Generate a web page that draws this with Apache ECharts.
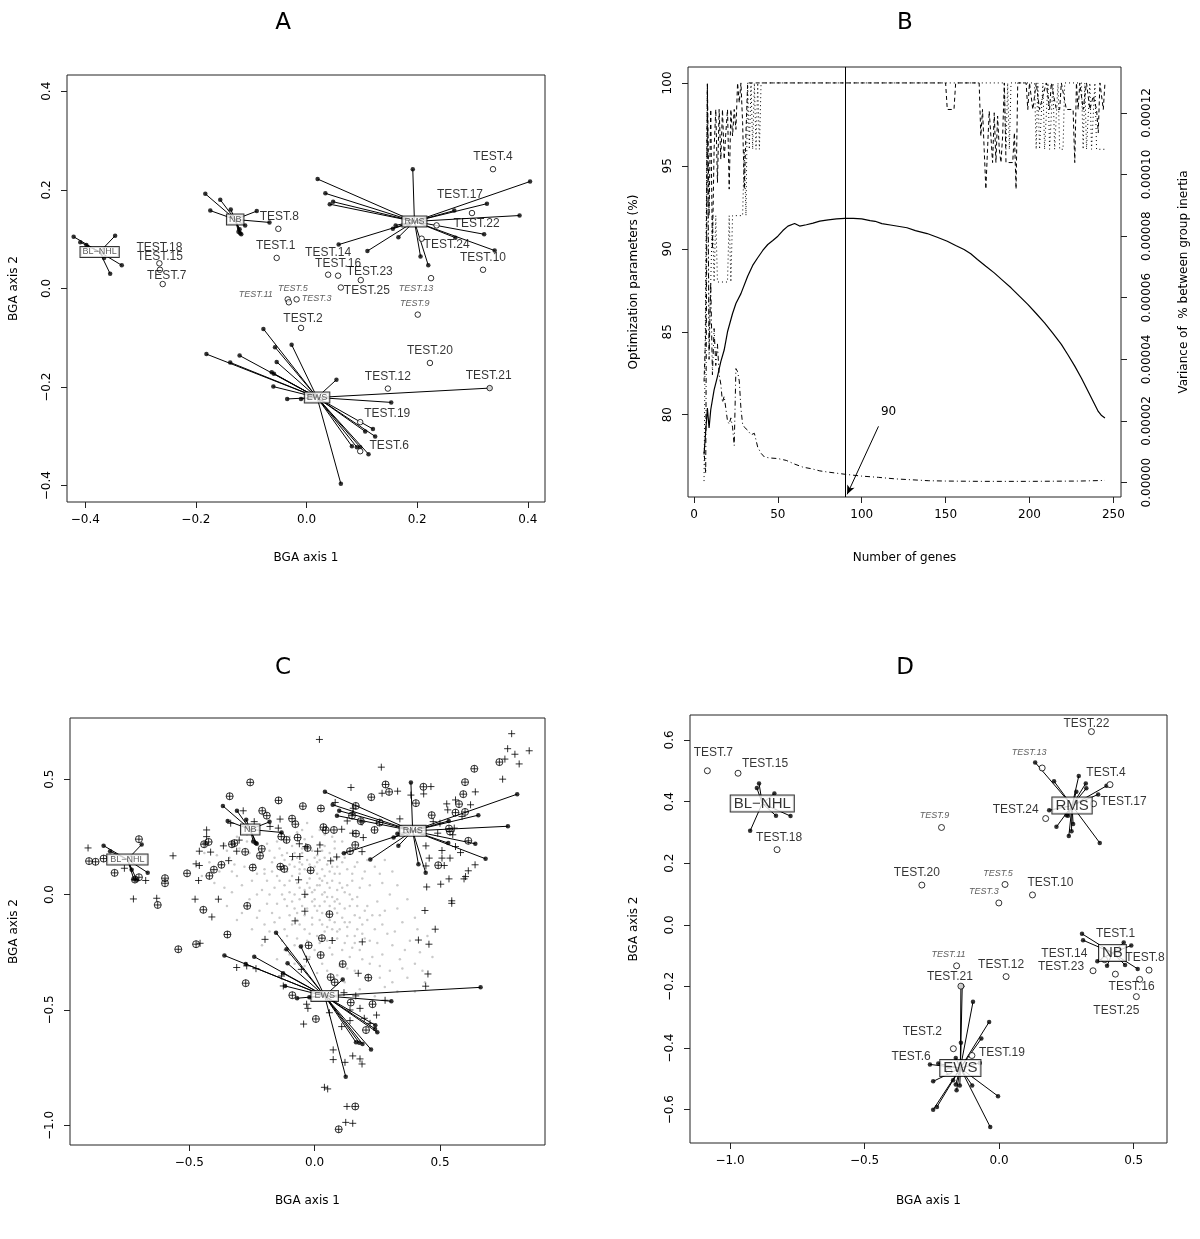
<!DOCTYPE html>
<html><head><meta charset="utf-8">
<script src="https://cdn.jsdelivr.net/npm/echarts@6/dist/echarts.min.js"></script>
<style>html,body{margin:0;padding:0;background:#fff}#c{width:1200px;height:1239px}</style>
</head><body><div id="c"></div>
<script>
// ---------- shared ----------
const groupNames = ["BL\u2212NHL", "NB", "RMS", "EWS"];
const italicTests = ["TEST.11", "TEST.5", "TEST.3", "TEST.13", "TEST.9"];

// ---------- Panel A ----------
const centersA = [[-0.374, 0.074], [-0.129, 0.140], [0.195, 0.136], [0.019, -0.221]];
const classA_BL = [[-0.421,0.105],[-0.409,0.094],[-0.398,0.088],[-0.346,0.107],[-0.334,0.047],[-0.355,0.030],[-0.366,0.062]];
const classA_NB = [[-0.183,0.192],[-0.156,0.180],[-0.137,0.160],[-0.174,0.158],[-0.090,0.157],[-0.067,0.134],[-0.121,0.120],[-0.123,0.115],[-0.118,0.110],[-0.120,0.112],[-0.111,0.128]];
const classA_RMS = [[0.192,0.242],[0.020,0.222],[0.034,0.193],[0.048,0.176],[0.042,0.171],[0.404,0.217],[0.326,0.172],[0.267,0.158],[0.385,0.148],[0.321,0.110],[0.269,0.103],[0.340,0.077],[0.220,0.047],[0.206,0.065],[0.110,0.076],[0.058,0.089],[0.166,0.104],[0.156,0.121],[0.161,0.128],[0.184,0.129]];
const classA_EWS = [[-0.078,-0.082],[-0.181,-0.133],[-0.138,-0.150],[-0.121,-0.136],[-0.057,-0.119],[-0.027,-0.114],[-0.054,-0.149],[-0.063,-0.170],[-0.059,-0.173],[-0.060,-0.199],[-0.035,-0.224],[-0.010,-0.224],[0.054,-0.185],[0.331,-0.202],[0.153,-0.231],[0.120,-0.285],[0.106,-0.290],[0.124,-0.300],[0.082,-0.320],[0.091,-0.322],[0.097,-0.322],[0.112,-0.336],[0.062,-0.396]];
const testA = [["TEST.4",0.337,0.242],["TEST.17",0.299,0.153],["TEST.22",0.235,0.128],["TEST.24",0.208,0.101],["TEST.10",0.319,0.038],["TEST.8",-0.051,0.121],["TEST.1",-0.054,0.062],["TEST.14",0.039,0.028],["TEST.16",0.057,0.026],["TEST.23",0.098,0.017],["TEST.25",0.062,0.002],["TEST.13",0.225,0.021],["TEST.9",0.201,-0.053],["TEST.11",-0.034,-0.022],["TEST.5",-0.032,-0.028],["TEST.3",-0.018,-0.022],["TEST.2",-0.010,-0.080],["TEST.18",-0.266,0.051],["TEST.15",-0.265,0.038],["TEST.7",-0.260,0.009],["TEST.20",0.223,-0.151],["TEST.12",0.147,-0.203],["TEST.21",0.331,-0.202],["TEST.19",0.097,-0.271],["TEST.6",0.097,-0.330]];
const labelOffA = {"TEST.4":[0,-12],"TEST.17":[-12,-18],"TEST.22":[40,-2],"TEST.24":[25,6],"TEST.10":[0,-12],"TEST.8":[1,-12],"TEST.1":[-1,-12],"TEST.14":[0,-22],"TEST.16":[0,-12],"TEST.23":[9,-8],"TEST.25":[26,3],"TEST.13":[-15,10],"TEST.9":[-3,-11],"TEST.11":[-32,-5],"TEST.5":[4,-14],"TEST.3":[20,-1],"TEST.2":[2,-9],"TEST.18":[0,-16],"TEST.15":[0,-13],"TEST.7":[4,-8],"TEST.20":[0,-12],"TEST.12":[0,-12],"TEST.21":[-1,-12],"TEST.19":[27,-8],"TEST.6":[29,-6]};
const ticksA_x = [-0.4, -0.2, 0, 0.2, 0.4];
const ticksA_y = [-0.4, -0.2, 0, 0.2, 0.4];

// ---------- Panel B ----------
const solidB = [[6,77.6],[7,79.0],[8,80.4],[9,79.2],[10,80.3],[12,81.5],[14,82.3],[16,83.2],[18,83.9],[20,85.0],[23,86.1],[25,86.7],[28,87.3],[32,88.35],[35,89.0],[38,89.46],[41,89.9],[44,90.26],[47,90.5],[50,90.76],[53,91.1],[56,91.37],[60,91.53],[63,91.37],[67,91.45],[71,91.55],[75,91.67],[80,91.75],[85,91.8],[90,91.83],[95,91.83],[100,91.81],[105,91.7],[108,91.66],[112,91.52],[118,91.42],[127,91.27],[132,91.1],[139,90.92],[145,90.7],[151,90.46],[156,90.2],[161,89.96],[165,89.7],[169,89.36],[174,88.95],[179,88.55],[184,88.1],[189,87.65],[194,87.15],[199,86.65],[204,86.1],[209,85.54],[214,84.9],[219,84.24],[223,83.6],[227,82.93],[231,82.2],[235,81.4],[238,80.8],[241,80.2],[243,79.95],[245,79.8]];
const dashedB = [[6,82],[7,85],[8,100],[9,92],[10,98.4],[11,90],[12,96],[13,98.4],[14,94],[15,98.4],[16,95.4],[17,98.4],[18,95.4],[19,97],[20,98.4],[21,93.6],[22,98.4],[23,96.8],[24,98.4],[25,97.2],[26,100],[27,98.8],[28,100],[29,97.6],[30,93.6],[31,97],[32,100],[150,100],[151,98.4],[155,98.4],[156,100],[170,100],[171,96.8],[172,98.4],[173,96],[174,93.6],[175,96],[176,98.3],[177,96.8],[178,95.2],[179,98.2],[180,95.2],[181,98],[182,96],[183,95.2],[184,96.8],[185,100],[186,95.2],[190,95.2],[191,97],[192,93.6],[193,100],[198,100],[199,98.4],[200,100],[202,98.4],[204,100],[206,98.4],[208,99.2],[210,100],[212,98.4],[213,100],[216,98.4],[218,98.4],[219,100],[222,98.4],[226,98.4],[227,95.2],[228,100],[229,98.4],[230,100],[232,98.4],[234,100],[236,98.4],[238,99.2],[240,98.4],[241,97],[242,100],[244,98.4],[245,100]];
const dottedB = [[6,76],[7,76],[8,100],[9,84],[10,88],[11,92],[12,88],[13,92],[14,88],[15,88],[20,88],[21,92],[22,88],[23,92],[29,92],[30,96],[31,92],[32,100],[33,96],[34,100],[35,96],[36,100],[37,96],[38,100],[39,96],[40,100],[185,100],[186,96],[187,100],[188,96],[189,100],[203,100],[204,96],[205,100],[206,96],[208,100],[209,96],[211,100],[212,96],[214,100],[215,96],[217,100],[218,96],[220,96],[221,100],[231,100],[232,96],[233,100],[234,96],[236,100],[237,96],[239,100],[240,96],[245,96]];
// variance of % between-group inertia, in units of 1e-5
const varianceE5 = [[6,1.0],[7,0.3],[8,12.8],[9,4.0],[10,6.5],[11,3.5],[12,5.0],[13,3.8],[14,4.5],[15,3.5],[16,3.2],[17,2.6],[18,2.8],[19,2.4],[20,2.0],[21,1.9],[22,2.1],[23,1.8],[24,1.2],[25,3.7],[26,3.6],[27,3.3],[28,2.4],[29,1.9],[30,1.8],[32,1.7],[34,1.55],[36,1.6],[38,1.15],[40,0.95],[42,0.83],[45,0.8],[50,0.78],[55,0.72],[60,0.6],[65,0.5],[70,0.45],[75,0.38],[80,0.34],[90,0.27],[100,0.21],[110,0.17],[120,0.12],[130,0.09],[140,0.06],[150,0.05],[170,0.04],[200,0.04],[230,0.05],[245,0.07]];
const chosenGenes = 90;
const arrowTail = [110, 79.3], arrowHead = [91.3, 75.2], arrowLabelAt = [116, 80.2];
const ticksB_x = [0, 50, 100, 150, 200, 250];
const ticksB_yl = [80, 85, 90, 95, 100];
const ticksB_yr = [0, 2, 4, 6, 8, 10, 12];

// ---------- Panel C ----------
const centersC = [[-0.747, 0.152], [-0.257, 0.282], [0.391, 0.276], [0.040, -0.439]];
const classC_BL = [[-0.842,0.212],[-0.816,0.188],[-0.690,0.217],[-0.666,0.095],[-0.721,0.066],[-0.710,0.064],[-0.730,0.107]];
const classC_NB = [[-0.366,0.384],[-0.310,0.363],[-0.273,0.324],[-0.347,0.319],[-0.180,0.315],[-0.132,0.269],[-0.235,0.223],[-0.231,0.220],[-0.245,0.230]];
const classC_RMS = [[0.384,0.486],[0.041,0.445],[0.072,0.389],[0.098,0.363],[0.089,0.342],[0.808,0.435],[0.771,0.296],[0.653,0.344],[0.535,0.319],[0.641,0.220],[0.682,0.155],[0.443,0.095],[0.414,0.131],[0.222,0.152],[0.117,0.179],[0.334,0.211],[0.315,0.247],[0.330,0.263],[0.533,0.223]];
const classC_EWS = [[-0.154,-0.165],[-0.360,-0.264],[-0.275,-0.301],[-0.241,-0.269],[-0.112,-0.237],[-0.055,-0.225],[-0.108,-0.298],[-0.126,-0.341],[-0.118,-0.396],[-0.070,-0.449],[-0.021,-0.445],[0.112,-0.368],[0.662,-0.402],[0.306,-0.462],[0.242,-0.566],[0.241,-0.582],[0.250,-0.597],[0.165,-0.640],[0.178,-0.642],[0.191,-0.647],[0.225,-0.671],[0.124,-0.789]];
const crossesC = [[0.786,0.697],[0.770,0.632],[0.799,0.608],[0.856,0.623],[0.816,0.566],[0.750,0.500],[0.759,0.587],[0.019,0.672],[0.266,0.552],[0.145,0.464],[0.269,0.439],[0.464,0.468],[0.435,0.436],[0.384,0.431],[0.641,0.445],[0.527,0.393],[0.622,0.389],[0.562,0.410],[0.531,0.367],[0.588,0.338],[0.551,0.259],[0.557,0.288],[0.444,0.211],[0.508,0.191],[0.562,0.208],[0.582,0.182],[0.508,0.158],[0.540,0.158],[0.457,0.158],[0.444,0.124],[0.517,0.126],[0.640,0.129],[0.613,0.103],[0.602,0.078],[0.596,0.068],[0.536,0.068],[0.503,0.045],[0.447,0.033],[0.547,-0.027],[0.547,-0.038],[0.440,-0.069],[0.481,-0.150],[0.414,-0.197],[0.456,-0.215],[0.452,-0.344],[0.443,-0.397],[0.340,0.328],[0.491,0.266],[0.500,0.309],[0.473,0.316],[0.331,0.448],[0.082,0.399],[0.130,0.319],[0.152,0.353],[0.189,0.314],[0.108,0.283],[0.152,0.266],[0.194,0.247],[0.189,0.186],[0.088,0.163],[0.064,0.146],[0.154,0.374],[0.021,0.215],[-0.035,0.208],[-0.061,0.220],[-0.088,0.165],[-0.059,0.165],[0.012,0.188],[-0.064,0.064],[-0.039,0.001],[-0.039,-0.072],[-0.078,-0.114],[0.070,-0.199],[0.190,-0.205],[-0.198,-0.194],[0.174,-0.341],[-0.053,-0.324],[-0.032,-0.280],[-0.285,0.363],[-0.241,0.316],[-0.178,0.295],[-0.145,0.288],[-0.138,0.327],[-0.335,0.309],[-0.364,0.211],[-0.301,0.236],[-0.311,0.188],[-0.343,0.147],[-0.431,0.280],[-0.431,0.251],[-0.435,0.223],[-0.460,0.188],[-0.415,0.184],[-0.473,0.133],[-0.460,0.126],[-0.463,0.061],[-0.565,0.168],[-0.630,-0.016],[-0.477,-0.020],[-0.384,-0.020],[-0.410,-0.097],[-0.457,-0.211],[-0.723,-0.019],[-0.674,0.061],[-0.759,0.114],[-0.904,0.202],[-0.311,-0.316],[-0.234,-0.321],[-0.271,-0.309],[-0.132,-0.353],[-0.125,-0.396],[-0.032,-0.475],[-0.027,-0.493],[-0.044,-0.561],[0.059,-0.512],[0.117,-0.425],[0.164,-0.439],[0.181,-0.493],[0.198,-0.536],[0.141,-0.546],[0.247,-0.522],[0.281,-0.458],[0.108,-0.572],[0.074,-0.673],[0.074,-0.715],[0.152,-0.699],[0.181,-0.712],[0.189,-0.734],[0.121,-0.727],[0.039,-0.835],[0.052,-0.842],[0.129,-0.918],[0.124,-0.987],[0.152,-0.991],[0.221,-0.558],[0.141,-0.500]];
const circledC = [[0.637,0.545],[0.600,0.487],[0.737,0.574],[0.593,0.435],[0.434,0.467],[0.404,0.396],[0.283,0.477],[0.297,0.445],[0.226,0.422],[0.467,0.344],[0.576,0.392],[0.562,0.355],[0.600,0.358],[0.536,0.286],[0.540,0.273],[0.613,0.233],[0.493,0.127],[0.164,0.384],[0.149,0.342],[0.184,0.318],[0.239,0.280],[0.259,0.312],[0.165,0.264],[0.162,0.215],[0.141,0.188],[0.077,0.280],[0.044,0.279],[0.035,0.292],[0.025,0.373],[-0.047,0.383],[-0.144,0.408],[-0.257,0.486],[-0.339,0.426],[-0.209,0.363],[-0.191,0.342],[-0.090,0.329],[-0.077,0.305],[-0.133,0.251],[-0.112,0.237],[-0.068,0.247],[-0.028,0.202],[-0.211,0.198],[-0.218,0.168],[-0.277,0.185],[-0.247,0.117],[-0.330,0.218],[-0.320,0.223],[-0.402,0.108],[-0.372,0.129],[-0.420,0.081],[-0.441,0.218],[-0.423,0.228],[-0.509,0.092],[-0.597,0.071],[-0.597,0.049],[-0.626,-0.045],[-0.701,0.240],[-0.717,0.065],[-0.701,0.075],[-0.798,0.094],[-0.842,0.156],[-0.874,0.142],[-0.900,0.145],[-0.137,0.121],[-0.121,0.111],[-0.016,0.105],[-0.269,-0.049],[0.059,-0.085],[-0.444,-0.066],[-0.348,-0.173],[-0.473,-0.215],[-0.544,-0.237],[-0.275,-0.384],[-0.024,-0.220],[0.029,-0.189],[0.024,-0.262],[0.112,-0.301],[0.064,-0.358],[0.080,-0.380],[0.214,-0.360],[-0.089,-0.436],[0.144,-0.468],[0.231,-0.475],[0.205,-0.587],[0.005,-0.539],[0.162,-0.918],[0.096,-1.017]];
const grayGenesC = [[-0.12,0.15],[-0.08,0.12],[-0.05,0.18],[-0.02,0.10],[0.01,0.14],[0.04,0.08],[0.07,0.12],[0.10,0.05],[-0.10,0.06],[-0.06,0.03],[-0.03,0.05],[0.00,0.02],[0.03,0.00],[0.06,0.03],[0.09,-0.02],[0.12,0.01],[-0.13,0.00],[-0.09,-0.03],[-0.04,-0.01],[0.02,-0.05],[0.05,-0.08],[0.08,-0.06],[0.11,-0.10],[-0.07,-0.08],[-0.01,-0.10],[0.03,-0.13],[0.07,-0.15],[0.13,-0.14],[-0.11,0.10],[-0.15,0.08],[-0.17,0.14],[-0.14,0.20],[-0.09,0.21],[-0.04,0.24],[0.02,0.22],[0.06,0.18],[0.09,0.16],[0.13,0.11],[0.15,0.06],[0.17,-0.01],[0.14,-0.05],[0.16,-0.09],[-0.16,0.03],[-0.19,0.06],[-0.20,0.11],[-0.22,0.16],[-0.18,0.19],[-0.12,0.23],[-0.07,0.27],[-0.01,0.19],[0.04,0.16],[-0.06,0.09],[-0.02,0.07],[0.01,0.09],[0.05,0.05],[0.08,0.09],[-0.08,0.00],[-0.05,-0.05],[0.00,-0.02],[0.04,-0.03],[0.10,-0.04],[-0.11,-0.05],[-0.14,-0.10],[-0.09,-0.13],[-0.04,-0.15],[0.01,-0.18],[0.05,-0.20],[0.09,-0.19],[0.12,-0.21],[0.16,-0.18],[0.19,-0.13],[0.20,-0.07],[0.18,0.03],[0.11,0.14],[0.00,0.12],[-0.03,0.15],[0.03,0.11],[-0.07,0.16],[-0.30,0.20],[-0.34,0.16],[-0.28,0.12],[-0.25,0.06],[-0.31,0.08],[-0.38,0.10],[-0.42,0.14],[-0.36,0.22],[-0.27,0.26],[-0.24,0.22],[-0.21,0.02],[-0.26,-0.02],[-0.33,0.01],[-0.40,0.05],[-0.45,0.08],[-0.19,-0.04],[-0.23,-0.10],[-0.29,-0.08],[-0.35,-0.05],[-0.18,-0.16],[-0.13,-0.20],[-0.21,-0.22],[-0.10,-0.26],[-0.05,-0.22],[-0.15,-0.28],[-0.02,-0.27],[0.03,-0.30],[0.07,-0.26],[0.10,-0.31],[0.14,-0.27],[0.18,-0.24],[0.22,-0.20],[0.24,-0.15],[0.23,-0.09],[0.25,-0.03],[0.22,0.04],[0.20,0.10],[0.17,0.14],[0.14,0.19],[0.11,0.23],[0.07,0.25],[0.02,0.28],[-0.03,0.31],[0.27,-0.26],[0.31,-0.22],[0.29,-0.17],[0.34,-0.28],[0.30,-0.33],[0.37,-0.36],[0.26,-0.31],[0.21,-0.35],[0.16,-0.33],[0.12,-0.38],[0.08,-0.42],[0.18,-0.41],[0.24,-0.44],[0.28,-0.40],[0.33,-0.42],[0.40,-0.30],[0.38,-0.20],[0.42,-0.25],[0.44,-0.38],[0.28,-0.07],[0.30,0.00],[0.27,0.05],[0.35,-0.12],[0.40,-0.10],[0.45,-0.18],[0.24,0.12],[0.31,0.10],[-0.02,0.03],[0.02,0.04],[-0.04,0.11],[0.06,0.10],[-0.09,0.08],[0.07,-0.01],[-0.06,-0.02],[0.01,-0.07],[-0.03,-0.06],[0.09,0.02],[0.12,-0.06],[-0.12,0.04],[-0.10,0.13],[0.00,0.16],[0.05,0.13],[-0.05,0.20],[0.03,0.19],[-0.08,0.18],[0.08,0.20],[-0.14,0.12],[0.13,0.04],[0.10,0.09],[0.06,-0.11],[-0.01,-0.13],[0.04,-0.16],[0.08,-0.12],[-0.07,-0.11],[0.15,-0.02],[-0.16,0.16],[-0.20,0.09],[-0.01,0.01],[0.02,0.07],[-0.05,0.13],[0.10,-0.15],[0.14,-0.12],[0.17,-0.05],[-0.13,0.17],[0.15,0.09],[-0.18,0.00],[-0.24,0.13],[-0.26,0.18],[-0.32,0.13],[0.19,-0.17],[0.21,-0.11],[0.23,-0.27],[0.15,-0.23],[0.06,-0.23],[0.00,-0.24],[-0.07,-0.19],[-0.12,-0.15],[-0.11,0.18],[-0.06,0.14],[-0.03,0.20],[0.01,0.17],[0.04,0.21],[0.07,0.15],[0.11,0.18],[-0.14,0.06],[-0.10,0.01],[-0.07,0.05],[-0.03,0.00],[0.01,0.04],[0.04,0.01],[0.07,0.06],[0.11,0.03],[0.14,0.00],[-0.12,-0.02],[-0.08,-0.06],[-0.04,-0.09],[0.00,-0.05],[0.03,-0.08],[0.06,-0.05],[0.09,-0.08],[0.12,-0.12],[-0.10,-0.09],[-0.06,-0.13],[-0.02,-0.17],[0.02,-0.11],[0.05,-0.14],[0.09,-0.16],[0.13,-0.18],[0.17,-0.15],[0.18,-0.10],[0.21,-0.05],[0.19,0.07],[0.16,0.12],[0.12,0.16],[0.08,0.23],[0.04,0.26],[-0.01,0.25],[-0.05,0.28],[-0.10,0.25],[-0.15,0.23],[-0.19,0.22],[-0.21,0.19],[-0.23,0.09],[-0.17,0.10],[-0.15,-0.04],[-0.17,-0.08],[-0.20,-0.13],[-0.16,-0.12],[-0.11,-0.18],[-0.08,-0.22],[-0.03,-0.20],[0.02,-0.21],[0.07,-0.19],[0.11,-0.24],[0.16,-0.21],[0.20,-0.19],[0.25,-0.21],[0.27,-0.13],[0.26,-0.09],[0.32,-0.16],[0.33,-0.06],[0.36,-0.24],[0.35,-0.32],[0.31,-0.38],[0.26,-0.36],[0.22,-0.30],[0.19,-0.28],[0.13,-0.32],[0.09,-0.35],[0.05,-0.33],[0.01,-0.34],[-0.04,-0.31],[-0.08,-0.30],[-0.12,-0.24],[0.40,-0.42],[0.43,-0.33],[0.47,-0.27],[0.41,-0.15],[-0.27,0.23],[-0.31,0.25],[-0.35,0.19],[-0.39,0.17],[-0.37,0.13],[-0.33,0.10],[-0.29,0.04],[-0.36,0.03],[-0.41,0.10],[-0.44,0.18],[-0.23,0.00],[-0.27,-0.05],[-0.31,-0.11],[-0.25,-0.15],[-0.22,-0.07],[0.21,0.15],[0.26,0.09],[0.28,0.15],[0.33,0.04],[0.37,-0.02],[-0.02,0.13],[0.02,0.15],[-0.06,0.11],[0.09,0.12],[-0.09,0.15],[0.05,-0.01],[-0.01,-0.03],[0.03,0.06],[-0.04,0.02],[0.08,-0.03]];
const ticksC_x = [-0.5, 0, 0.5];
const ticksC_y = [-1.0, -0.5, 0, 0.5];

// ---------- Panel D ----------
const centersD = [[-0.880, 0.394], [0.421, -0.091], [0.271, 0.387], [-0.144, -0.465]];
const classD_BL = [[-0.892,0.459],[-0.900,0.444],[-0.835,0.426],[-0.829,0.354],[-0.775,0.353],[-0.925,0.305]];
const classD_NB = [[0.308,-0.029],[0.312,-0.050],[0.463,-0.057],[0.491,-0.067],[0.365,-0.118],[0.401,-0.133],[0.468,-0.130],[0.515,-0.143]];
const classD_RMS = [[0.134,0.527],[0.204,0.466],[0.296,0.483],[0.322,0.459],[0.324,0.443],[0.399,0.451],[0.368,0.423],[0.287,0.432],[0.186,0.372],[0.250,0.356],[0.213,0.318],[0.275,0.327],[0.269,0.304],[0.259,0.288],[0.374,0.266],[0.256,0.354]];
const classD_EWS = [[-0.142,-0.199],[-0.137,-0.199],[-0.097,-0.250],[-0.037,-0.315],[-0.066,-0.369],[-0.142,-0.383],[-0.072,-0.448],[-0.257,-0.453],[-0.226,-0.450],[-0.245,-0.508],[-0.171,-0.504],[-0.161,-0.518],[-0.158,-0.537],[-0.146,-0.521],[-0.100,-0.521],[-0.004,-0.556],[-0.245,-0.600],[-0.231,-0.591],[-0.033,-0.656],[-0.161,-0.432]];
const testD = [["TEST.22",0.343,0.627],["TEST.7",-1.084,0.500],["TEST.15",-0.970,0.492],["TEST.18",-0.825,0.244],["TEST.13",0.160,0.509],["TEST.4",0.412,0.455],["TEST.17",0.351,0.393],["TEST.24",0.173,0.345],["TEST.9",-0.214,0.316],["TEST.20",-0.287,0.129],["TEST.5",0.022,0.131],["TEST.3",-0.001,0.071],["TEST.10",0.124,0.097],["TEST.1",0.392,-0.113],["TEST.14",0.432,-0.160],["TEST.8",0.557,-0.147],["TEST.23",0.349,-0.149],["TEST.16",0.522,-0.177],["TEST.25",0.510,-0.233],["TEST.11",-0.158,-0.133],["TEST.12",0.026,-0.168],["TEST.21",-0.142,-0.199],["TEST.2",-0.170,-0.402],["TEST.19",-0.101,-0.424],["TEST.6",-0.186,-0.475]];
const labelOffD = {"TEST.22":[-5,-8],"TEST.7":[6,-18],"TEST.15":[27,-10],"TEST.18":[2,-12],"TEST.13":[-13,-15],"TEST.4":[-4,-12],"TEST.17":[30,-2],"TEST.24":[-30,-9],"TEST.9":[-7,-12],"TEST.20":[-5,-12],"TEST.5":[-7,-11],"TEST.3":[-15,-11],"TEST.10":[18,-12],"TEST.1":[11,-26],"TEST.14":[-51,-20],"TEST.8":[-4,-12],"TEST.23":[-32,-4],"TEST.16":[-8,7],"TEST.25":[-20,14],"TEST.11":[-8,-11],"TEST.12":[-5,-12],"TEST.21":[-11,-9],"TEST.2":[-31,-17],"TEST.19":[30,-3],"TEST.6":[-38,-15]};
const ticksD_x = [-1.0, -0.5, 0, 0.5];
const ticksD_y = [-0.6, -0.4, -0.2, 0, 0.2, 0.4, 0.6];

// ---------- helpers ----------
const AX_FONT = 'DejaVu Sans';
const PT_FONT = 'Liberation Sans';
const INK = '#222';
const fmt1 = v => (v < 0 ? '\u2212' : '') + Math.abs(v).toFixed(1);
const fmt0 = v => String(v);
const fmtE5 = v => (v / 1e5).toFixed(5);
const PLUS = 'path://M0,5L10,5M5,0L5,10';
const OPLUS = 'path://M0,5A5,5,0,1,1,10,5A5,5,0,1,1,0,5ZM0,5L10,5M5,0L5,10';

function xAx(gi, min, max, ticks, fmt, name, gap) {
  return {type: 'value', gridIndex: gi, min, max, name, nameLocation: 'middle', nameGap: gap,
    nameTextStyle: {fontFamily: AX_FONT, fontSize: 12, color: '#000'},
    axisLine: {show: false, onZero: false}, splitLine: {show: false},
    axisTick: {show: true, customValues: ticks, length: 6, lineStyle: {color: INK}},
    axisLabel: {customValues: ticks, formatter: fmt, fontFamily: AX_FONT, fontSize: 12, color: '#000', margin: 12}};
}
function yAx(gi, min, max, ticks, fmt, name, gap, pos, margin) {
  return {type: 'value', gridIndex: gi, min, max, name, position: pos || 'left', nameLocation: 'middle', nameGap: gap,
    nameRotate: 90,
    nameTextStyle: {fontFamily: AX_FONT, fontSize: 12, color: '#000'},
    axisLine: {show: false, onZero: false}, splitLine: {show: false},
    axisTick: {show: true, customValues: ticks, length: 6, lineStyle: {color: INK}},
    axisLabel: {customValues: ticks, formatter: fmt, rotate: 90, fontFamily: AX_FONT, fontSize: 12, color: '#000', margin: margin || 12}};
}
function segSeries(ai, centers, classes) {
  const data = [];
  classes.forEach((pts, g) => pts.forEach(p => data.push({coords: [centers[g], p]})));
  return {type: 'lines', coordinateSystem: 'cartesian2d', xAxisIndex: ai, yAxisIndex: ai, silent: true, z: 2,
    lineStyle: {color: '#000', width: 1, opacity: 1, curveness: 0}, data};
}
function dotSeries(xi, yi, classes, size) {
  return {type: 'scatter', xAxisIndex: xi, yAxisIndex: yi, silent: true, z: 3, symbol: 'circle', symbolSize: size,
    itemStyle: {color: '#000'}, data: [].concat(...classes)};
}
function testSeries(xi, yi, tests, offs, size) {
  return {type: 'scatter', xAxisIndex: xi, yAxisIndex: yi, silent: true, z: 4, symbol: 'circle', symbolSize: size,
    itemStyle: {color: '#fff', borderColor: '#000', borderWidth: 1},
    data: tests.map(t => {
      const it = italicTests.includes(t[0]);
      return {name: t[0], value: [t[1], t[2]], label: {show: true, position: 'inside', offset: offs[t[0]] || [0, -12],
        formatter: '{b}', fontFamily: PT_FONT, fontSize: it ? 9 : 12, fontStyle: it ? 'italic' : 'normal', color: it ? '#333' : '#000'}};
    })};
}
function boxSeries(xi, yi, centers, fs, pad, col) {
  return {type: 'scatter', xAxisIndex: xi, yAxisIndex: yi, silent: true, z: 6, symbol: 'rect', symbolSize: 1,
    itemStyle: {color: 'transparent'},
    data: centers.map((c, g) => ({name: groupNames[g], value: c})),
    label: {show: true, position: 'inside', formatter: '{b}', fontFamily: PT_FONT, fontSize: fs, color: col,
      backgroundColor: '#fff', borderColor: '#000', borderWidth: 1, padding: pad}};
}

const gridBase = {show: true, borderColor: INK, borderWidth: 1, backgroundColor: 'transparent', containLabel: false};
const panelLetter = (t, x, y) => ({type: 'text', x, y, style: {text: t, fontSize: 23, fontFamily: AX_FONT, fill: '#000', align: 'center', verticalAlign: 'middle'}});

const option = {
  animation: false,
  backgroundColor: '#fff',
  graphic: [panelLetter('A', 283, 23), panelLetter('B', 905, 23), panelLetter('C', 283, 668), panelLetter('D', 905, 668)],
  grid: [
    Object.assign({left: 67, top: 75, width: 478, height: 427}, gridBase),
    Object.assign({left: 688, top: 67, width: 433, height: 430}, gridBase),
    Object.assign({left: 70, top: 718, width: 475, height: 427}, gridBase),
    Object.assign({left: 690, top: 715, width: 477, height: 428}, gridBase)
  ],
  xAxis: [
    xAx(0, -0.433, 0.431, ticksA_x, fmt1, 'BGA axis 1', 50),
    xAx(1, -3.56, 254.56, ticksB_x, fmt0, 'Number of genes', 55),
    xAx(2, -0.976, 0.919, ticksC_x, fmt1, 'BGA axis 1', 50),
    xAx(3, -1.1485, 0.6238, ticksD_x, fmt1, 'BGA axis 1', 52)
  ],
  yAxis: [
    yAx(0, -0.433, 0.433, ticksA_y, fmt1, 'BGA axis 2', 47, 'left', 14),
    yAx(1, 75.04, 100.96, ticksB_yl, fmt0, 'Optimization parameters (%)', 48, 'left', 14),
    yAx(2, -1.085, 0.765, ticksC_y, fmt1, 'BGA axis 2', 50, 'left', 14),
    yAx(3, -0.708, 0.681, ticksD_y, fmt1, 'BGA axis 2', 50, 'left', 14),
    yAx(1, -0.468, 13.49, ticksB_yr, fmtE5, 'Variance of  % between group inertia', 57, 'right', 20)
  ],
  series: [
    // Panel A
    segSeries(0, centersA, [classA_BL, classA_NB, classA_RMS, classA_EWS]),
    dotSeries(0, 0, [classA_BL, classA_NB, classA_RMS, classA_EWS], 4.5),
    testSeries(0, 0, testA, labelOffA, 5.5),
    boxSeries(0, 0, centersA, 9, [1, 2, 0, 2], '#333'),
    // Panel B
    {type: 'line', xAxisIndex: 1, yAxisIndex: 1, silent: true, showSymbol: false, symbol: 'none', z: 3,
      lineStyle: {color: '#000', width: 1.2, type: 'solid'}, data: solidB,
      markLine: {silent: true, symbol: 'none', label: {show: false}, lineStyle: {color: '#000', width: 1, type: 'solid'},
        data: [
          {xAxis: chosenGenes},
          [{coord: arrowTail, symbol: 'none'}, {coord: arrowHead, symbol: 'arrow', symbolSize: [6, 9]}]
        ]},
      markPoint: {silent: true, symbol: 'circle', symbolSize: 1, itemStyle: {color: 'transparent'},
        data: [{coord: arrowLabelAt, label: {show: true, formatter: String(chosenGenes), position: 'inside', fontFamily: AX_FONT, fontSize: 12, color: '#000'}}]}},
    {type: 'line', xAxisIndex: 1, yAxisIndex: 1, silent: true, showSymbol: false, symbol: 'none', z: 2,
      lineStyle: {color: '#000', width: 1, type: [4, 3]}, data: dashedB},
    {type: 'line', xAxisIndex: 1, yAxisIndex: 1, silent: true, showSymbol: false, symbol: 'none', z: 2,
      lineStyle: {color: '#000', width: 1, type: [1, 3]}, data: dottedB},
    {type: 'line', xAxisIndex: 1, yAxisIndex: 4, silent: true, showSymbol: false, symbol: 'none', z: 2,
      lineStyle: {color: '#000', width: 1, type: [1, 3, 5, 3]}, data: varianceE5},
    // Panel C
    {type: 'scatter', xAxisIndex: 2, yAxisIndex: 2, silent: true, z: 1, symbol: 'circle', symbolSize: 2.5,
      itemStyle: {color: '#bdbdbd'}, data: grayGenesC},
    {type: 'scatter', xAxisIndex: 2, yAxisIndex: 2, silent: true, z: 3, symbol: PLUS, symbolSize: 7,
      itemStyle: {color: 'transparent', borderColor: '#000', borderWidth: 1}, data: crossesC},
    {type: 'scatter', xAxisIndex: 2, yAxisIndex: 2, silent: true, z: 3, symbol: OPLUS, symbolSize: 7,
      itemStyle: {color: 'transparent', borderColor: '#000', borderWidth: 1}, data: circledC},
    segSeries(2, centersC, [classC_BL, classC_NB, classC_RMS, classC_EWS]),
    dotSeries(2, 2, [classC_BL, classC_NB, classC_RMS, classC_EWS], 4.5),
    boxSeries(2, 2, centersC, 9, [1, 3, 0, 3], '#333'),
    // Panel D
    segSeries(3, centersD, [classD_BL, classD_NB, classD_RMS, classD_EWS]),
    dotSeries(3, 3, [classD_BL, classD_NB, classD_RMS, classD_EWS], 4.5),
    testSeries(3, 3, testD, labelOffD, 6),
    boxSeries(3, 3, centersD, 15, [1, 3, 0, 3], '#000')
  ]
};
const chart = echarts.init(document.getElementById('c'), null, {renderer: 'canvas'});
chart.setOption(option);
</script></body></html>
